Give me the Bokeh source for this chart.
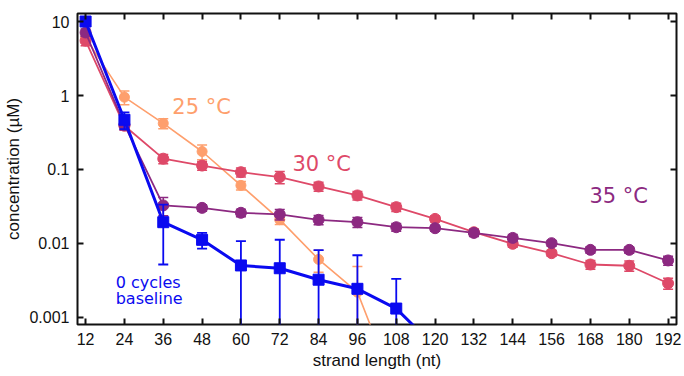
import numpy as np
from bokeh.plotting import figure
from bokeh.models import FixedTicker, CustomJSTickFormatter, Range1d, LinearAxis, LogAxis
from bokeh.core.properties import value
from bokeh.embed import file_html
from bokeh.resources import INLINE

# ---------------- data ----------------
x_ticks = [12, 24, 36, 48, 60, 72, 84, 96, 108, 120, 132, 144, 156, 168, 180, 192]
y_ticks = [0.001, 0.01, 0.1, 1, 10]

# 0 cycles baseline (last point lies below the axis, only the line reaches it)
blue_x = [12, 24, 36, 48, 60, 72, 84, 96, 108, 120]
blue_y = [10.0, 0.47, 0.0194, 0.0112, 0.00505, 0.00463, 0.00324, 0.00244, 0.00132, 0.0004]
blue_err = [1.0, 0.12, 0.0142, 0.0027, 0.0057, 0.0066, 0.0049, 0.0045, 0.002, 0.0]

# 25 °C (last point lies below the axis)
orange_x = [12, 24, 36, 48, 60, 72, 84, 96, 108]
orange_y = [6.0, 0.95, 0.42, 0.175, 0.061, 0.021, 0.0061, 0.0022, 0.0001]
orange_err = [0.8, 0.2, 0.065, 0.04, 0.008, 0.003, 0.002, 0.0027, 0.0]

# 30 °C
red_x = x_ticks
red_y = [5.5, 0.39, 0.14, 0.113, 0.092, 0.079, 0.059, 0.0446, 0.031, 0.0215,
         0.0142, 0.0099, 0.0074, 0.0052, 0.0050, 0.0029]
red_err = [0.8, 0.05, 0.02, 0.015, 0.013, 0.015, 0.008, 0.006, 0.004, 0.002,
           0.0015, 0.001, 0.0007, 0.0007, 0.0008, 0.0005]

# 35 °C
purple_x = x_ticks
purple_y = [7.1, 0.40, 0.0327, 0.0303, 0.026, 0.0247, 0.0209, 0.0194, 0.0166, 0.0161,
            0.0139, 0.0119, 0.0101, 0.0082, 0.0082, 0.0059]
purple_err = [0.8, 0.05, 0.009, 0.003, 0.003, 0.004, 0.003, 0.003, 0.002, 0.0015,
              0.0015, 0.0013, 0.0009, 0.0008, 0.0008, 0.0008]

ORANGE = "#FE9F6D"
RED = "#DE4968"
PURPLE = "#8C2981"
BLUE = "#0a0af0"
INK = "#111111"

X0, X1 = 9.5, 194.6
Y0, Y1 = 0.000804, 12.83

# ---------------- figure ----------------
p = figure(width=684, height=376, output_backend="svg", toolbar_location=None,
           y_axis_type="log",
           x_range=Range1d(X0, X1), y_range=Range1d(Y0, Y1),
           min_border_left=77, min_border_right=8, min_border_top=13, min_border_bottom=52)
p.xgrid.visible = False
p.ygrid.visible = False
p.outline_line_color = INK
p.outline_line_width = 2
p.outline_line_alpha = 1
p.background_fill_color = "white"
p.border_fill_color = "white"

TICK_FONT = "Liberation Sans"

def style_axis(ax, labelled=True):
    ax.axis_line_color = None
    ax.major_tick_in = 6
    ax.major_tick_out = 0
    ax.minor_tick_line_color = None
    ax.major_tick_line_color = INK
    ax.major_tick_line_width = 2
    ax.major_label_text_font = TICK_FONT
    if labelled:
        ax.major_label_text_color = INK
        ax.major_label_text_font_size = "16px"
        ax.major_label_standoff = 8
    else:
        ax.major_label_text_color = None
        ax.major_label_text_font_size = "1px"
        ax.major_label_standoff = 0
    ax.axis_label_text_font = TICK_FONT
    ax.axis_label_text_font_size = "17px"
    ax.axis_label_text_font_style = "normal"
    ax.axis_label_text_color = INK

xa = p.xaxis[0]
xa.ticker = FixedTicker(ticks=x_ticks)
style_axis(xa)
xa.axis_label = "strand length (nt)"
xa.axis_label_standoff = 3

ya = p.yaxis[0]
ya.ticker = FixedTicker(ticks=y_ticks)
ya.formatter = CustomJSTickFormatter(code="return tick.toString();")
style_axis(ya)
ya.axis_label = "concentration (µM)"
ya.axis_label_standoff = 3

# mirrored inward ticks on the top and right edges (no labels)
top_axis = LinearAxis(ticker=FixedTicker(ticks=x_ticks))
style_axis(top_axis, labelled=False)
p.add_layout(top_axis, "above")
right_axis = LogAxis(ticker=FixedTicker(ticks=y_ticks))
style_axis(right_axis, labelled=False)
p.add_layout(right_axis, "right")

# ---------------- series ----------------
def series(xs, ys, errs, color, marker, msize, lw, elw, n_markers):
    xs = np.array(xs, float)
    ys = np.array(ys, float)
    es = np.array(errs, float)
    p.line(xs, ys, line_color=color, line_width=lw)
    xm, ym, em = xs[:n_markers], ys[:n_markers], es[:n_markers]
    lo = ym - em
    lo = np.where(lo > 0, lo, 1e-7)
    hi = ym + em
    p.segment(x0=xm, y0=lo, x1=xm, y1=hi, line_color=color, line_width=elw)
    p.scatter(xm, hi, marker="dash", size=10, line_color=color, line_width=elw)
    p.scatter(xm, lo, marker="dash", size=10, line_color=color, line_width=elw)
    p.scatter(xm, ym, marker=marker, size=msize, fill_color=color, line_color=color)

series(orange_x, orange_y, orange_err, ORANGE, "circle", 10, 1.6, 1.5, len(orange_x) - 1)
series(red_x, red_y, red_err, RED, "circle", 11, 1.8, 1.5, len(red_x))
series(purple_x, purple_y, purple_err, PURPLE, "circle", 11, 1.8, 1.5, len(purple_x))
series(blue_x, blue_y, blue_err, BLUE, "square", 11, 3, 1.8, len(blue_x) - 1)

# ---------------- labels ----------------
LABEL_FONT = value("DejaVu Sans")
p.text(x=[38.8], y=[0.71], text=["25 °C"], text_color=ORANGE, text_font=LABEL_FONT,
       text_font_size="21px", text_baseline="alphabetic", text_align="left")
p.text(x=[75.9], y=[0.119], text=["30 °C"], text_color=RED, text_font=LABEL_FONT,
       text_font_size="21px", text_baseline="alphabetic", text_align="left")
p.text(x=[167.7], y=[0.0432], text=["35 °C"], text_color=PURPLE, text_font=LABEL_FONT,
       text_font_size="21px", text_baseline="alphabetic", text_align="left")
p.text(x=[21.3, 21.3], y=[0.0030, 0.00182], text=["0 cycles", "baseline"], text_color=BLUE,
       text_font=LABEL_FONT, text_font_size="16px", text_baseline="alphabetic", text_align="left")

open("out.html", "w").write(file_html(p, INLINE))
